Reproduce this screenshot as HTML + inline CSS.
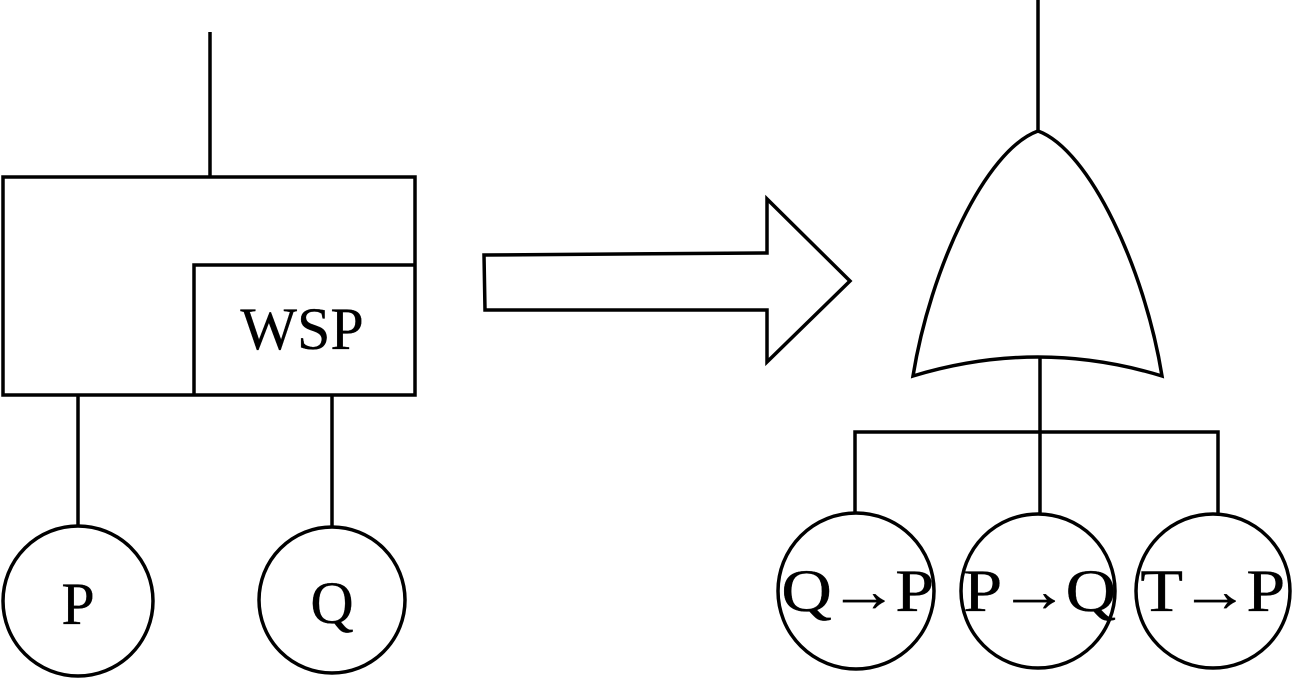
<!DOCTYPE html>
<html><head><style>html,body{margin:0;padding:0;background:#fff}svg{display:block;position:absolute;left:0;top:0}
.t{position:absolute;font-family:"Liberation Serif","Times New Roman",Times,serif;font-size:60px;line-height:60px;color:#000;white-space:nowrap;transform:translateX(-50%);-webkit-text-stroke:0.3px #000}
.w{transform:translateX(-50%) scaleX(1.17)}</style></head>
<body>
<svg width="1296" height="682" viewBox="0 0 1296 682" xmlns="http://www.w3.org/2000/svg">
<g fill="none" stroke="#000" stroke-width="3.5">
<line x1="210" y1="32" x2="210" y2="177"/>
<rect x="3" y="177" width="412" height="218"/>
<polyline points="194,395 194,265 415,265"/>
<line x1="78" y1="395" x2="78" y2="527"/>
<line x1="332" y1="395" x2="332" y2="527"/>
<circle cx="78" cy="601" r="75"/>
<circle cx="332" cy="600" r="73"/>
<polygon points="484,255 767,253 767,199 850,281 767,362 767,310 485,310"/>
<line x1="1038" y1="0" x2="1038" y2="131"/>
<path d="M1038,131 C985,150 930,270 913,376 Q1038,338 1162,376 C1145,270 1090,150 1038,131 Z"/>
<line x1="1040" y1="357" x2="1040" y2="514"/>
<polyline points="855,514 855,432 1218,432 1218,514"/>
<circle cx="856" cy="591" r="78"/>
<circle cx="1038" cy="591" r="77"/>
<circle cx="1213" cy="591" r="77"/>
</g>
</svg>
<div class="t" style="left:302px;top:299px">WSP</div>
<div class="t" style="left:78px;top:574px">P</div>
<div class="t" style="left:332px;top:573px">Q</div>
<div class="t w" style="left:856px;top:561px;letter-spacing:-3px">Q→P</div>
<div class="t w" style="left:1038px;top:561px;letter-spacing:-3px">P→Q</div>
<div class="t w" style="left:1211px;top:561px;letter-spacing:-3px">T→P</div>
</body></html>
